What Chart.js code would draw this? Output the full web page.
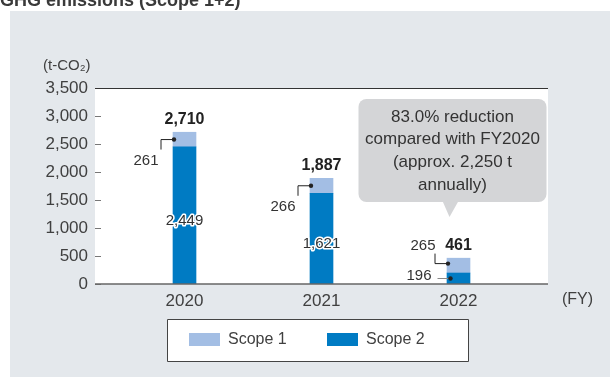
<!DOCTYPE html>
<html>
<head>
<meta charset="utf-8">
<script src="https://cdn.jsdelivr.net/npm/chart.js@4/dist/chart.umd.min.js"></script>
<style>
    html, body { margin: 0; padding: 0; background: #fff; }
    #wrap { width: 610px; height: 377px; position: relative; }
</style>
</head>
<body>
<div id="wrap"><canvas id="ghgChart"></canvas></div>
<script>
// Emissions by fiscal year (t-CO2)
const years = ['2020', '2021', '2022'];
const scope1 = [261, 266, 265];
const scope2 = [2449, 1621, 196];
const calloutLines = ['83.0% reduction', 'compared with FY2020', '(approx. 2,250 t', 'annually)'];

const FONT = 'Arial, "Liberation Sans", Helvetica, sans-serif';
const SCOPE1_COLOR = '#a3bee4';
const SCOPE2_COLOR = '#007bc3';
const TEXT = '#404040';

const fmt = v => v.toLocaleString('en-US');

function drawDot(ctx, x, y) {
    ctx.beginPath();
    ctx.arc(x, y, 2.2, 0, Math.PI * 2);
    ctx.fill();
}

const panelPlugin = {
    id: 'panel',
    beforeDraw(chart) {
        const { ctx, chartArea: a } = chart;
        ctx.save();
        ctx.fillStyle = '#fff';
        ctx.fillRect(0, 0, chart.width, chart.height);
        ctx.fillStyle = '#e4e8ec';
        ctx.fillRect(10, 11, chart.width - 10, chart.height - 11);
        // white plot panel, a bit wider than the category band
        ctx.fillStyle = '#fff';
        ctx.fillRect(a.left - 21, a.top, a.width + 42, a.bottom - a.top);

        ctx.fillStyle = '#3a3a3a';
        ctx.font = 'bold 18px ' + FONT;
        ctx.textBaseline = 'alphabetic';
        ctx.fillText('GHG emissions (Scope 1+2)', 0, 6);

        ctx.fillStyle = TEXT;
        ctx.font = '15px ' + FONT;
        ctx.textBaseline = 'middle';
        ctx.fillText('(t-CO\u2082)', 43, 66);
        ctx.font = '16px ' + FONT;
        ctx.fillText('(FY)', 562, 300);
        ctx.restore();
    },
    afterDatasetsDraw(chart) {
        const { ctx, chartArea: a, scales: { x, y } } = chart;
        const s2 = chart.getDatasetMeta(0).data;
        const s1 = chart.getDatasetMeta(1).data;
        const left = a.left - 21, right = a.right + 21;
        ctx.save();

        // tick marks, top rule and baseline
        ctx.strokeStyle = '#777';
        ctx.lineWidth = 1;
        y.ticks.forEach(t => {
            const py = Math.round(y.getPixelForValue(t.value)) + 0.5;
            ctx.beginPath();
            ctx.moveTo(left, py);
            ctx.lineTo(left + 6, py);
            ctx.stroke();
        });
        ctx.strokeStyle = '#333';
        ctx.beginPath();
        ctx.moveTo(left, Math.round(y.getPixelForValue(3500)) + 0.5);
        ctx.lineTo(right, Math.round(y.getPixelForValue(3500)) + 0.5);
        ctx.stroke();
        ctx.strokeStyle = '#666';
        ctx.lineWidth = 1.5;
        ctx.beginPath();
        ctx.moveTo(left, y.getPixelForValue(0));
        ctx.lineTo(right, y.getPixelForValue(0));
        ctx.stroke();

        years.forEach((yr, i) => {
            const b1 = s1[i], b2 = s2[i];
            const total = scope1[i] + scope2[i];

            // total above the stack
            ctx.fillStyle = '#222';
            ctx.font = 'bold 16px ' + FONT;
            ctx.textAlign = 'center';
            ctx.textBaseline = 'middle';
            ctx.fillText(fmt(total), b1.x, b1.y - 13);

            ctx.font = '15px ' + FONT;
            ctx.lineWidth = 1;
            const mid1 = (b1.y + b1.base) / 2;
            const mid2 = (b2.y + b2.base) / 2;
            const barLeft = b1.x - b1.width / 2;

            if (b2.base - b2.y > 40) {
                // Scope 2 inside the bar, with a white halo
                ctx.lineWidth = 3;
                ctx.strokeStyle = '#fff';
                ctx.lineJoin = 'round';
                ctx.strokeText(fmt(scope2[i]), b2.x, mid2 + 5);
                ctx.fillStyle = '#333';
                ctx.fillText(fmt(scope2[i]), b2.x, mid2 + 5);

                // Scope 1 leader: left, then down
                const dx = barLeft + 1, dy = mid1;
                ctx.strokeStyle = '#222';
                ctx.fillStyle = '#222';
                ctx.lineWidth = 1;
                ctx.beginPath();
                ctx.moveTo(dx, dy);
                ctx.lineTo(dx - 13, dy);
                ctx.lineTo(dx - 13, dy + 10);
                ctx.stroke();
                drawDot(ctx, dx, dy);
                ctx.fillStyle = '#333';
                ctx.fillText(fmt(scope1[i]), dx - 28, dy + 21);
            } else {
                // small stack: both labels sit to the left
                const dx = barLeft + 1, dy = mid1 - 2;
                ctx.strokeStyle = '#222';
                ctx.fillStyle = '#222';
                ctx.beginPath();
                ctx.moveTo(dx, dy);
                ctx.lineTo(dx - 13, dy);
                ctx.lineTo(dx - 13, dy - 10);
                ctx.stroke();
                drawDot(ctx, dx, dy);
                ctx.fillStyle = '#333';
                ctx.fillText(fmt(scope1[i]), dx - 25, dy - 18);

                const ex = b2.x - 8, ey = mid2;
                ctx.strokeStyle = '#888';
                ctx.beginPath();
                ctx.moveTo(ex - 13, ey);
                ctx.lineTo(ex, ey);
                ctx.stroke();
                ctx.fillStyle = '#222';
                drawDot(ctx, ex, ey);
                ctx.fillStyle = '#333';
                ctx.textAlign = 'right';
                ctx.fillText(fmt(scope2[i]), ex - 19, ey - 3);
            }
        });

        // callout over the last year
        const cx = x.getPixelForValue(2) - 6;
        const bx = cx - 94, by = 99, bw = 188, bh = 103;
        ctx.fillStyle = '#d4d5d7';
        ctx.beginPath();
        ctx.roundRect(bx, by, bw, bh, 8);
        ctx.fill();
        ctx.beginPath();
        ctx.moveTo(cx - 10, by + bh - 1);
        ctx.lineTo(cx + 6, by + bh - 1);
        ctx.lineTo(cx - 3, by + bh + 15);
        ctx.closePath();
        ctx.fill();
        ctx.fillStyle = '#333';
        ctx.font = '17px ' + FONT;
        ctx.textAlign = 'center';
        ctx.textBaseline = 'middle';
        calloutLines.forEach((line, k) => ctx.fillText(line, cx, 117 + k * 22.7));

        // legend box, Scope 1 first
        const lx = 167, ly = 319;
        ctx.fillStyle = '#fff';
        ctx.fillRect(lx, ly, 301, 42);
        ctx.strokeStyle = '#444';
        ctx.lineWidth = 1;
        ctx.strokeRect(lx + 0.5, ly + 0.5, 301, 42);
        const items = [chart.data.datasets[1], chart.data.datasets[0]];
        ctx.font = '16px ' + FONT;
        ctx.textAlign = 'left';
        items.forEach((ds, k) => {
            const ix = lx + 22 + k * 138;
            ctx.fillStyle = ds.backgroundColor;
            ctx.fillRect(ix, ly + 14, 31, 13);
            ctx.fillStyle = TEXT;
            ctx.fillText(ds.label, ix + 39, ly + 21);
        });
        ctx.restore();
    }
};

new Chart(document.getElementById('ghgChart'), {
    type: 'bar',
    data: {
        labels: years,
        datasets: [
            { label: 'Scope 2', data: scope2, backgroundColor: SCOPE2_COLOR, barThickness: 23 },
            { label: 'Scope 1', data: scope1, backgroundColor: SCOPE1_COLOR, barThickness: 23 }
        ]
    },
    options: {
        responsive: true,
        maintainAspectRatio: false,
        animation: false,
        layout: { padding: { top: 88, right: 83, bottom: 0, left: 0 } },
        plugins: {
            legend: { display: false },
            tooltip: { enabled: false }
        },
        scales: {
            x: {
                stacked: true,
                border: { display: false },
                grid: { display: false, drawTicks: false },
                ticks: { padding: 7, color: TEXT, font: { family: FONT, size: 17 } },
                afterFit(s) { s.height = 93; }
            },
            y: {
                stacked: true,
                min: 0,
                max: 3500,
                border: { display: false },
                grid: { display: false, drawTicks: false },
                ticks: {
                    stepSize: 500,
                    padding: 28,
                    color: TEXT,
                    font: { family: FONT, size: 17 },
                    callback: v => fmt(v)
                },
                afterFit(s) { s.width = 116; }
            }
        }
    },
    plugins: [panelPlugin]
});
</script>
</body>
</html>
